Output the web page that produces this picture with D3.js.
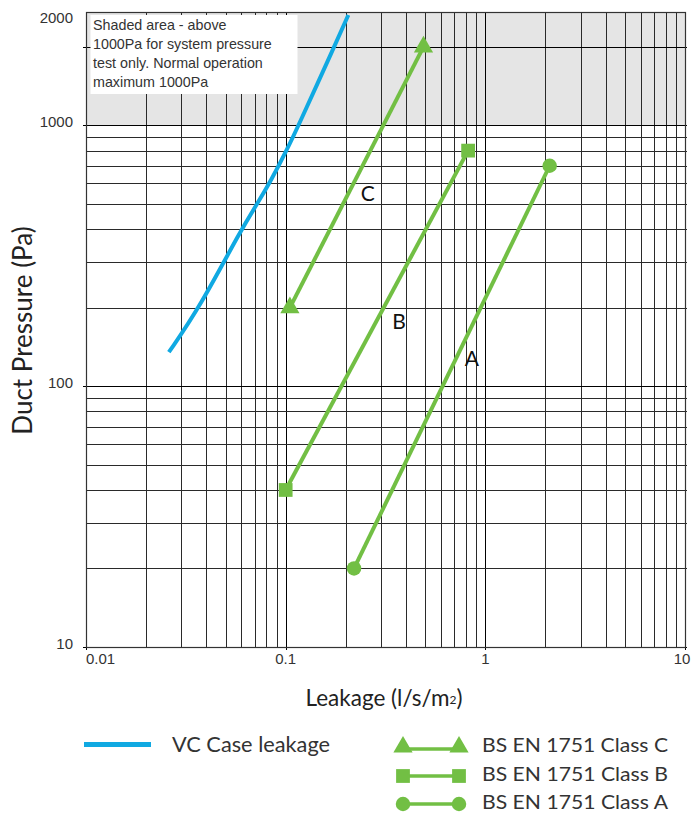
<!DOCTYPE html>
<html><head><meta charset="utf-8">
<script src="https://cdn.jsdelivr.net/npm/d3@7"></script>
<style>body{margin:0;background:#fff}svg{display:block}</style>
</head><body><svg id="c" width="692" height="814"></svg>
<script>
// ---------- data ----------
const xDomain = [0.01, 10];
const yDomain = [10, 2720];
const xTickValues = [0.01, 0.1, 1, 10];
const xTickLabels = ["0.01", "0.1", "1", "10"];
const yTickValues = [10, 100, 1000, 2000];
const yTickLabels = ["10", "100", "1000", "2000"];
const shadeFrom = 1000;

const vcLeakageX = [0.026, 0.037, 0.060, 0.072, 0.085, 0.101, 0.116, 0.175, 0.206];
const vcLeakageY = [135, 200, 400, 500, 620, 800, 1000, 2000, 2650];
const classCX = [0.105, 0.49];
const classCY = [200, 2000];
const classBX = [0.1, 0.82];
const classBY = [40, 800];
const classAX = [0.22, 2.1];
const classAY = [20, 700];

const seriesNames = ["VC Case leakage", "BS EN 1751 Class C", "BS EN 1751 Class B", "BS EN 1751 Class A"];
const lineLetters = ["C", "B", "A"];
const letterX = [0.258, 0.37, 0.855];
const letterY = [546, 177, 128];
const annotationLines = ["Shaded area - above", "1000Pa for system pressure", "test only. Normal operation", "maximum 1000Pa"];
const xTitle = "Leakage (l/s/m";
const xTitleSup = "2";
const yTitle = "Duct Pressure (Pa)";

// ---------- drawing ----------
const svg = d3.select("#c");
const x = d3.scaleLog().domain(xDomain).range([86, 685]);
const y = d3.scaleLog().domain(yDomain).range([647, 12]);
const [x0, x1] = x.range();
const [y0, y1] = y.range();
const green = "#72bf44", blue = "#10a9e2";

// shaded area
svg.append("rect").attr("x", x0).attr("y", y1).attr("width", x1 - x0).attr("height", y(shadeFrom) - y1)
  .attr("fill", "#e5e5e5");

// grid
const xGrid = [];
for (let e = -2; e < 1; e++) for (let m = 1; m <= 9; m++) xGrid.push(m * Math.pow(10, e));
xGrid.push(10);
const yGrid = [];
for (let e = 1; e < 4; e++) for (let m = 1; m <= 9; m++) { const v = m * Math.pow(10, e); if (v <= yDomain[1]) yGrid.push(v); }
yGrid.push(2000);
const g = svg.append("g");
g.selectAll("line.v").data(xGrid).join("line")
  .attr("x1", d => Math.round(x(d)) + 0.5).attr("x2", d => Math.round(x(d)) + 0.5)
  .attr("y1", y1).attr("y2", d => xTickValues.includes(d) ? y0 + 3 : y0)
  .attr("stroke", d => xTickValues.includes(d) ? "#000" : "#2a2a2a").attr("stroke-width", 1);
g.selectAll("line.h").data(yGrid).join("line")
  .attr("y1", d => Math.round(y(d)) + 0.5).attr("y2", d => Math.round(y(d)) + 0.5)
  .attr("x1", d => yTickValues.includes(d) ? x0 - 3 : x0).attr("x2", x1 + 2)
  .attr("stroke", d => yTickValues.includes(d) ? "#000" : "#2a2a2a").attr("stroke-width", 1);

// border
svg.append("rect").attr("x", x0 + 0.5).attr("y", y1 + 0.5).attr("width", x1 - x0).attr("height", y0 - y1)
  .attr("fill", "none").attr("stroke", "#333").attr("stroke-width", 1.2);

// annotation box
svg.append("rect").attr("x", 90.5).attr("y", 15).attr("width", 207).attr("height", 79).attr("fill", "#fff");
svg.append("g").selectAll("text").data(annotationLines).join("text")
  .attr("x", 93).attr("y", (d, i) => 30 + i * 19)
  .attr("font-family", "Liberation Sans, Arial, sans-serif").attr("font-size", 14.3).attr("fill", "#333")
  .text(d => d);

// axis tick labels
svg.append("g").selectAll("text").data(xTickValues).join("text")
  .attr("x", (d, i) => i === xTickValues.length - 1 ? x(d) - 3 : x(d))
  .attr("text-anchor", (d, i) => i === 0 ? "start" : "middle")
  .attr("y", 664)
  .attr("font-family", "Liberation Sans, Arial, sans-serif").attr("font-size", 15).attr("fill", "#333")
  .text((d, i) => xTickLabels[i]);
svg.append("g").selectAll("text").data(yTickValues).join("text")
  .attr("x", 73).attr("text-anchor", "end")
  .attr("y", (d, i) => i === yTickValues.length - 1 ? y1 + 10.5 : y(d) - 4 + 5.5)
  .attr("font-family", "Liberation Sans, Arial, sans-serif").attr("font-size", 15).attr("fill", "#333")
  .text((d, i) => yTickLabels[i]);

// axis titles
const xt = svg.append("text").attr("x", 384).attr("y", 705.5).attr("text-anchor", "middle")
  .attr("font-family", "Lato, sans-serif").attr("font-size", 22.5).attr("fill", "#222");
xt.append("tspan").text(xTitle);
xt.append("tspan").attr("font-size", 12).attr("dy", -2).text(xTitleSup);
xt.append("tspan").attr("dy", 2).text(")");
svg.append("text").attr("transform", "translate(32,330.5) rotate(-90)").attr("text-anchor", "middle")
  .attr("font-family", "Lato, sans-serif").attr("font-size", 26).attr("fill", "#222").text(yTitle);

// VC curve
const vcData = vcLeakageX.map((v, i) => [v, vcLeakageY[i]]);
svg.append("path").datum(vcData)
  .attr("d", d3.line().x(d => x(d[0])).y(d => y(d[1])).curve(d3.curveBasis))
  .attr("fill", "none").attr("stroke", blue).attr("stroke-width", 4);

// class lines
const classes = [
  { xs: classCX, ys: classCY, sym: d3.symbolTriangle, size: 160 },
  { xs: classBX, ys: classBY, sym: d3.symbolSquare, size: 190 },
  { xs: classAX, ys: classAY, sym: d3.symbolCircle, size: 165 }
];
classes.forEach(c => {
  const pts = c.xs.map((v, i) => [v, c.ys[i]]);
  svg.append("path").datum(pts)
    .attr("d", d3.line().x(d => x(d[0])).y(d => y(d[1])))
    .attr("fill", "none").attr("stroke", green).attr("stroke-width", 4);
  svg.append("g").selectAll("path").data(pts).join("path")
    .attr("transform", d => `translate(${x(d[0])},${y(d[1])})`)
    .attr("d", d3.symbol().type(c.sym).size(c.size)).attr("fill", green);
});

// letters
svg.append("g").selectAll("text").data(lineLetters).join("text")
  .attr("x", (d, i) => x(letterX[i])).attr("y", (d, i) => y(letterY[i]) + 7.5)
  .attr("text-anchor", "middle").attr("font-family", "Lato, sans-serif").attr("font-size", 21).attr("fill", "#111")
  .text(d => d);

// legend
svg.append("line").attr("x1", 84).attr("x2", 151).attr("y1", 744.5).attr("y2", 744.5)
  .attr("stroke", blue).attr("stroke-width", 5);
svg.append("text").attr("x", 172).attr("y", 752).attr("font-family", "Lato, sans-serif").attr("font-size", 21)
  .attr("textLength", 158).attr("lengthAdjust", "spacingAndGlyphs")
  .attr("fill", "#333").text(seriesNames[0]);
const legRows = [747, 776, 804];
classes.forEach((c, i) => {
  const ly = legRows[i];
  svg.append("line").attr("x1", 403).attr("x2", 459).attr("y1", ly + (i === 0 ? 2 : 0)).attr("y2", ly + (i === 0 ? 2 : 0))
    .attr("stroke", green).attr("stroke-width", 3.5);
  [403, 459].forEach(px => {
    svg.append("path").attr("transform", `translate(${px},${ly})`)
      .attr("d", d3.symbol().type(c.sym).size(c.size)).attr("fill", green);
  });
  svg.append("text").attr("x", 482).attr("y", ly + 5).attr("font-family", "Lato, sans-serif").attr("font-size", 20)
    .attr("textLength", 186).attr("lengthAdjust", "spacingAndGlyphs")
    .attr("fill", "#333").text(seriesNames[i + 1]);
});
</script></body></html>
